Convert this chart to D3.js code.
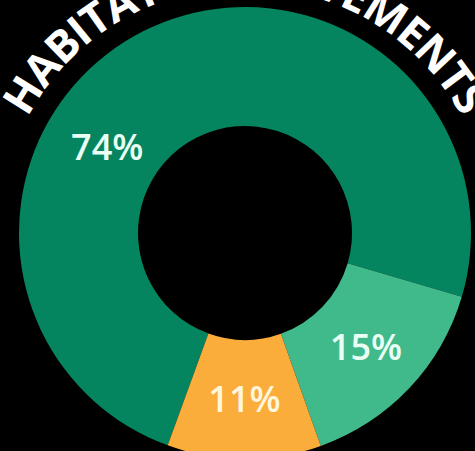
<!DOCTYPE html>
<html>
<head>
<meta charset="utf-8">
<script src="https://cdn.jsdelivr.net/npm/d3@7/dist/d3.min.js"></script>
<style>
  html, body { margin: 0; padding: 0; background: #000; overflow: hidden; }
  svg { display: block; }
</style>
</head>
<body>
<svg id="chart" width="475" height="451"></svg>
<script>
// Share of habitat improvements by category
const categories = ["Category A", "Category B", "Category C"];
const values = [74, 15, 11];
const labels = ["74%", "15%", "11%"];
const colors = ["#05855f", "#40b98b", "#fbad3c"];
const title = "HABITAT IMPROVEMENTS";

const width = 475, height = 451;
const cx = 245, cy = 233;
const innerR = 107, outerR = 226;
const titleR = 246;
const deg = Math.PI / 180;

const svg = d3.select("#chart");
const g = svg.append("g").attr("transform", `translate(${cx},${cy})`);

// Curved title running over the top of the ring
const a0 = -130 * deg, a1 = 130 * deg;
const p0 = [titleR * Math.sin(a0), -titleR * Math.cos(a0)];
const p1 = [titleR * Math.sin(a1), -titleR * Math.cos(a1)];
g.append("path")
  .attr("id", "titleArc")
  .attr("d", `M${p0[0]},${p0[1]} A${titleR},${titleR} 0 1 1 ${p1[0]},${p1[1]}`)
  .attr("fill", "none");

g.append("text")
  .attr("fill", "#ffffff")
  .attr("font-family", "'Open Sans', sans-serif")
  .attr("font-weight", 700)
  .attr("font-size", 44)
  .append("textPath")
  .attr("href", "#titleArc")
  .attr("startOffset", "50%")
  .attr("text-anchor", "middle")
  .attr("textLength", titleR * 124 * deg)
  .attr("lengthAdjust", "spacing")
  .text(title);

// Donut
const pie = d3.pie().sort(null).value(d => d)
  .startAngle(200 * deg).endAngle(200 * deg + 2 * Math.PI);
const arcs = pie(values);
const arc = d3.arc().innerRadius(innerR).outerRadius(outerR);

g.selectAll("path.slice")
  .data(arcs)
  .join("path")
  .attr("class", "slice")
  .attr("d", arc)
  .attr("fill", (d, i) => colors[i]);

// Value labels: small slices at their centroid, the large one up and to the left
const labelR = (innerR + outerR) / 2;
const bigLabelAngle = 302 * deg;
function labelPos(d, i) {
  if (i === 0) return [(labelR - 4) * Math.sin(bigLabelAngle), -(labelR - 4) * Math.cos(bigLabelAngle)];
  return arc.centroid(d);
}

g.selectAll("text.value")
  .data(arcs)
  .join("text")
  .attr("class", "value")
  .attr("transform", (d, i) => `translate(${labelPos(d, i)})`)
  .attr("text-anchor", "middle")
  .attr("dy", "0.36em")
  .attr("fill", (d, i) => i === 2 ? "#fff6dc" : "#eafff4")
  .attr("font-family", "'Open Sans', sans-serif")
  .attr("font-weight", 600)
  .attr("font-size", 36)
  .text((d, i) => labels[i]);
</script>
</body>
</html>
